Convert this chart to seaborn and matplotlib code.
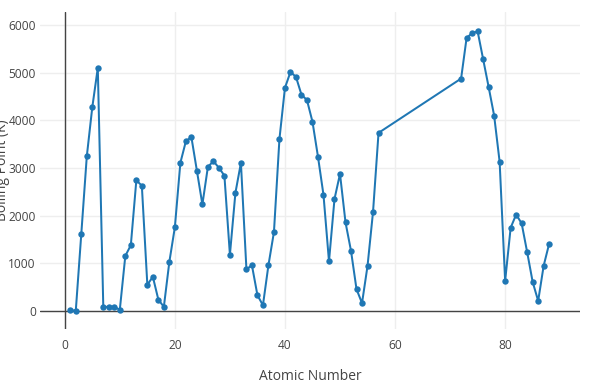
import matplotlib
matplotlib.use("Agg")
import matplotlib.pyplot as plt
import seaborn as sns
import pandas as pd

atomic_number = list(range(1, 58)) + list(range(72, 89))
boiling_point = [
    20, 4, 1615, 3243, 4275, 5100, 77, 90, 85, 27,
    1156, 1380, 2740, 2630, 550, 718, 239, 87, 1032, 1757,
    3109, 3560, 3650, 2945, 2235, 3023, 3143, 3005, 2840, 1180,
    2478, 3107, 876, 958, 332, 120, 961, 1655, 3611, 4682,
    5015, 4912, 4538, 4425, 3970, 3237, 2436, 1040, 2350, 2876,
    1860, 1261, 457, 165, 944, 2078, 3737,
    4876, 5731, 5828, 5869, 5285, 4701, 4100, 3130, 630, 1746,
    2023, 1837, 1235, 610, 211, 950, 1413,
]
x_ticks = [0, 20, 40, 60, 80]
y_ticks = [0, 1000, 2000, 3000, 4000, 5000, 6000]

df = pd.DataFrame({"Atomic Number": atomic_number, "Boiling Point (K)": boiling_point})

sns.set_theme(style="white")
plt.rcParams["font.family"] = ["Open Sans", "DejaVu Sans"]

fig = plt.figure(figsize=(5.9, 3.92), dpi=100)
ax = fig.add_axes([40 / 590, 1 - 329 / 392, 540 / 590, 317 / 392])

ax.axhline(0, color="#444444", lw=1, zorder=1)
ax.axvline(0, color="#444444", lw=1, zorder=1)

sns.lineplot(data=df, x="Atomic Number", y="Boiling Point (K)", ax=ax,
             color="#1f77b4", lw=1.45, marker="o", markersize=4.6,
             markeredgewidth=0, estimator=None, sort=False, zorder=3)

ax.set_xlim(-4.5, 93.6)
ax.set_ylim(-378, 6273)
ax.set_xticks(x_ticks)
ax.set_yticks(y_ticks)
ax.grid(True, color="#eeeeee", lw=1)
ax.set_axisbelow(True)
for s in ax.spines.values():
    s.set_visible(False)
ax.tick_params(axis="both", length=0, labelsize=8.6, labelcolor="#444444")
ax.tick_params(axis="x", pad=7)
ax.tick_params(axis="y", pad=3)
ax.set_xlabel("")
ax.set_ylabel("")
fig.text(310 / 590, 1 - 377 / 392, "Atomic Number", ha="center", va="center",
         fontsize=10, color="#444444")
fig.text(3 / 590, 1 - 170 / 392, "Boiling Point (K)", ha="center", va="center",
         rotation=90, fontsize=10, color="#444444")

fig.savefig("out.png", dpi=100)
